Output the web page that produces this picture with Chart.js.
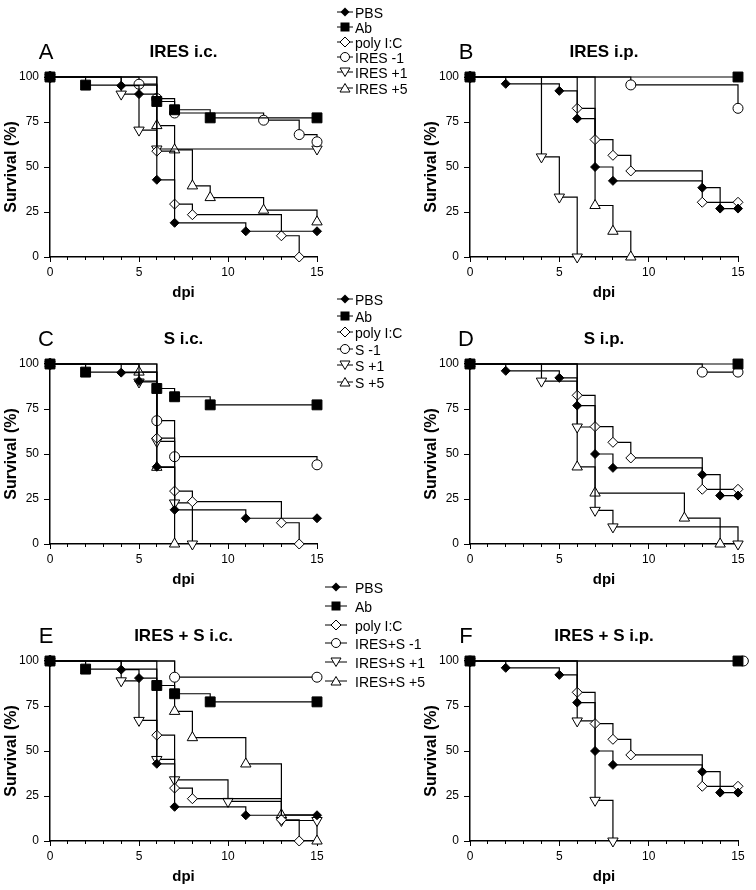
<!DOCTYPE html>
<html>
<head>
<meta charset="utf-8">
<script src="https://cdn.jsdelivr.net/npm/chart.js@4.4.1/dist/chart.umd.min.js"></script>
<style>
body { margin:0; background:#fff; width:756px; height:890px; position:relative; overflow:hidden;
       font-family: Arial, "Liberation Sans", sans-serif; color:#000; }
canvas { position:absolute; }
.letter { position:absolute; font-size:22px; line-height:22px; transform:translate(-50%,-50%); }
.lg { position:absolute; font-size:14px; line-height:14px; white-space:nowrap; }
.lg svg { position:absolute; top:0; }
</style>
</head>
<body>
<script>
// survival curves as [dpi, survival %]
var pbsIc    = [[0,100],[4,95.2],[5,90.5],[6,42.9],[7,19],[11,14.3],[15,14.3]];
var abIc     = [[0,100],[2,95.5],[6,86.4],[7,81.8],[9,77.3],[15,77.3]];
var polyIc   = [[0,100],[6,58.8],[7,29.4],[8,23.5],[13,11.8],[14,0]];
var pbsIp    = [[0,100],[2,96.2],[5,92.3],[6,76.9],[7,50],[8,42.3],[13,38.5],[14,26.9],[15,26.9]];
var abIp     = [[0,100],[15,100]];
var polyIp   = [[0,100],[6,82.6],[7,65.2],[8,56.5],[9,47.8],[13,30.4],[15,30.4]];

var iresIcM1 = [[0,100],[5,96],[6,88],[7,80],[12,76],[14,68],[15,64]];
var iresIcP1 = [[0,100],[4,90.5],[5,70.5],[6,60],[15,60]];
var iresIcP5 = [[0,100],[6,73],[7,59.5],[8,39.5],[9,33],[12,26],[15,19.5]];
var iresIpM1 = [[0,100],[9,95.6],[15,82.6]];
var iresIpP1 = [[0,100],[4,55.6],[5,33.3],[6,0]];
var iresIpP5 = [[0,100],[7,28.6],[8,14.3],[9,0]];

var sIcM1 = [[0,100],[6,68.5],[7,48.5],[15,44]];
var sIcP1 = [[0,100],[5,90],[6,57],[7,22.8],[8,0]];
var sIcP5 = [[0,100],[5,95.5],[6,42.6],[7,0]];
var sIpM1 = [[0,100],[13,95.5],[15,95.5]];
var sIpP1 = [[0,100],[4,90.5],[6,65],[7,18.7],[8,9.5],[15,0]];
var sIpP5 = [[0,100],[6,42.8],[7,28.3],[12,14.4],[14,0]];

var bothIcM1 = [[0,100],[7,91],[15,91]];
var bothIcP1 = [[0,100],[4,89],[5,67],[6,45.3],[7,34],[10,22],[13,11.4],[15,11.4]];
var bothIcP5 = [[0,100],[7,72],[8,57.4],[11,42.8],[13,14.5],[15,0]];
var bothIpM1 = [[0,100],[15.3,100]];
var bothIpP1 = [[0,100],[6,66.7],[7,22.6],[8,0]];

var legendIres = ['PBS','Ab','poly I:C','IRES -1','IRES +1','IRES +5'];
var legendS    = ['PBS','Ab','poly I:C','S -1','S +1','S +5'];
var legendBoth = ['PBS','Ab','poly I:C','IRES+S -1','IRES+S +1','IRES+S +5'];

var yTicks = [0, 25, 50, 75, 100];
var xLabelTicks = [0, 5, 10, 15];

var FONT = 'Arial, "Liberation Sans", sans-serif';

// marker look for each group, same order as the legends
var markers = [
  {style:'rectRot',  r:4.5, fill:'#000', rot:0},
  {style:'rect',     r:7,   fill:'#000', rot:0},
  {style:'rectRot',  r:5,   fill:'#fff', rot:0},
  {style:'circle',   r:5,   fill:'#fff', rot:0},
  {style:'triangle', r:6,   fill:'#fff', rot:180},
  {style:'triangle', r:6,   fill:'#fff', rot:0}
];

// rows: canvas top, plot top, plot bottom
var rows = [
  {top:0,   plotTop:77,  plotBottom:257},
  {top:300, plotTop:364, plotBottom:544},
  {top:600, plotTop:661, plotBottom:841}
];

var panels = [
  {letter:'A', title:'IRES i.c.',     row:0, side:0, labels:legendIres, series:[pbsIc, abIc, polyIc, iresIcM1, iresIcP1, iresIcP5]},
  {letter:'B', title:'IRES i.p.',     row:0, side:1, labels:legendIres, series:[pbsIp, abIp, polyIp, iresIpM1, iresIpP1, iresIpP5]},
  {letter:'C', title:'S i.c.',        row:1, side:0, labels:legendS,    series:[pbsIc, abIc, polyIc, sIcM1, sIcP1, sIcP5]},
  {letter:'D', title:'S i.p.',        row:1, side:1, labels:legendS,    series:[pbsIp, abIp, polyIp, sIpM1, sIpP1, sIpP5]},
  {letter:'E', title:'IRES + S i.c.', row:2, side:0, labels:legendBoth, series:[pbsIc, abIc, polyIc, bothIcM1, bothIcP1, bothIcP5]},
  {letter:'F', title:'IRES + S i.p.', row:2, side:1, labels:legendBoth, series:[pbsIp, abIp, polyIp, bothIpM1, bothIpP1]}
];

var sides = [
  {left:0,   width:380, padRight:63},
  {left:420, width:336, padRight:18}
];

panels.forEach(function(p) {
  var row = rows[p.row], side = sides[p.side];
  var cv = document.createElement('canvas');
  cv.width = side.width;
  cv.height = row.plotBottom + 45 - row.top;
  cv.style.left = side.left + 'px';
  cv.style.top = row.top + 'px';
  document.body.appendChild(cv);

  var letter = document.createElement('div');
  letter.className = 'letter';
  letter.textContent = p.letter;
  letter.style.left = (side.left + 46) + 'px';
  letter.style.top = (row.plotTop - 25) + 'px';
  document.body.appendChild(letter);

  var datasets = p.series.map(function(pts, i) {
    var m = markers[i];
    return {
      label: p.labels[i],
      data: pts.map(function(d) { return {x: d[0], y: d[1]}; }),
      stepped: 'before',
      borderColor: '#000',
      borderWidth: 1.2,
      fill: false,
      pointStyle: m.style,
      pointRadius: m.r,
      pointHoverRadius: m.r,
      pointRotation: m.rot,
      pointBackgroundColor: m.fill,
      pointBorderColor: '#000',
      pointBorderWidth: 1,
      clip: false
    };
  });

  new Chart(cv, {
    type: 'line',
    data: { datasets: datasets },
    options: {
      responsive: false,
      animation: false,
      devicePixelRatio: 1,
      layout: { padding: { left: 0, right: side.padRight, top: 0, bottom: 0 } },
      plugins: {
        legend: { display: false },
        tooltip: { enabled: false },
        title: {
          display: true,
          text: p.title,
          fullSize: false,
          color: '#000',
          font: { family: FONT, size: 17, weight: 'bold' },
          padding: { top: row.plotTop - row.top - 35.2, bottom: 14.8 }
        }
      },
      scales: {
        x: {
          type: 'linear',
          min: 0, max: 15,
          afterFit: function(s) { s.height = 45; },
          grid: { drawOnChartArea: false, color: '#000', tickLength: 5 },
          border: { color: '#000', width: 1.5 },
          ticks: {
            stepSize: 5, autoSkip: false, maxRotation: 0, padding: 3,
            color: '#000', font: { family: FONT, size: 12 },
            callback: function(v) { return xLabelTicks.indexOf(v) >= 0 ? String(v) : ''; }
          },
          title: { display: true, text: 'dpi', color: '#000',
                   font: { family: FONT, size: 15, weight: 'bold' }, padding: { top: 0, bottom: 0 } }
        },
        xm: {
          type: 'linear',
          axis: 'x',
          position: { y: 0 },
          min: 0, max: 15,
          grid: { drawOnChartArea: false, color: '#000', tickLength: 3 },
          border: { display: false },
          ticks: { stepSize: 1, autoSkip: false, display: false }
        },
        y: {
          min: 0, max: 100,
          afterFit: function(s) { s.width = 50; },
          afterBuildTicks: function(s) { s.ticks = yTicks.map(function(v) { return {value: v}; }); },
          grid: { drawOnChartArea: false, color: '#000', tickLength: 6 },
          border: { color: '#000', width: 1.5 },
          ticks: { padding: 5, color: '#000', font: { family: FONT, size: 12 } },
          title: { display: true, text: 'Survival (%)', color: '#000',
                   font: { family: FONT, size: 16, weight: 'bold' }, padding: { top: 2.4, bottom: 0 } }
        }
      }
    }
  });
});

// legends drawn as html, symbols match the markers
function symbol(i, w) {
  var c = w / 2, y = 7, s = '';
  if (i === 0) s = '<polygon points="' + c + ',2.5 ' + (c+4.5) + ',7 ' + c + ',11.5 ' + (c-4.5) + ',7" fill="#000"/>';
  if (i === 1) s = '<rect x="' + (c-4.5) + '" y="2.5" width="9" height="9" fill="#000"/>';
  if (i === 2) s = '<polygon points="' + c + ',2 ' + (c+5) + ',7 ' + c + ',12 ' + (c-5) + ',7" fill="#fff" stroke="#000"/>';
  if (i === 3) s = '<circle cx="' + c + '" cy="7" r="4.5" fill="#fff" stroke="#000"/>';
  if (i === 4) s = '<polygon points="' + (c-5) + ',3 ' + (c+5) + ',3 ' + c + ',11.5" fill="#fff" stroke="#000"/>';
  if (i === 5) s = '<polygon points="' + (c-5) + ',11 ' + (c+5) + ',11 ' + c + ',2.5" fill="#fff" stroke="#000"/>';
  return '<svg width="' + w + '" height="14"><line x1="0" y1="' + y + '" x2="' + w + '" y2="' + y +
         '" stroke="#000" stroke-width="1"/>' + s + '</svg>';
}

var legends = [
  {lineX:337, lineW:16, textX:355, y0:11.5, dy:15.2, texts:legendIres},
  {lineX:337, lineW:16, textX:355, y0:299,  dy:16.5, texts:legendS},
  {lineX:325, lineW:22, textX:355, y0:587,  dy:18.8, texts:legendBoth}
];

legends.forEach(function(L) {
  L.texts.forEach(function(t, i) {
    var y = L.y0 + L.dy * i - 7;
    var sym = document.createElement('div');
    sym.className = 'lg';
    sym.style.left = L.lineX + 'px';
    sym.style.top = y + 'px';
    sym.innerHTML = symbol(i, L.lineW);
    document.body.appendChild(sym);
    var txt = document.createElement('div');
    txt.className = 'lg';
    txt.style.left = L.textX + 'px';
    txt.style.top = (y + 1) + 'px';
    txt.textContent = t;
    document.body.appendChild(txt);
  });
});
</script>
</body>
</html>
